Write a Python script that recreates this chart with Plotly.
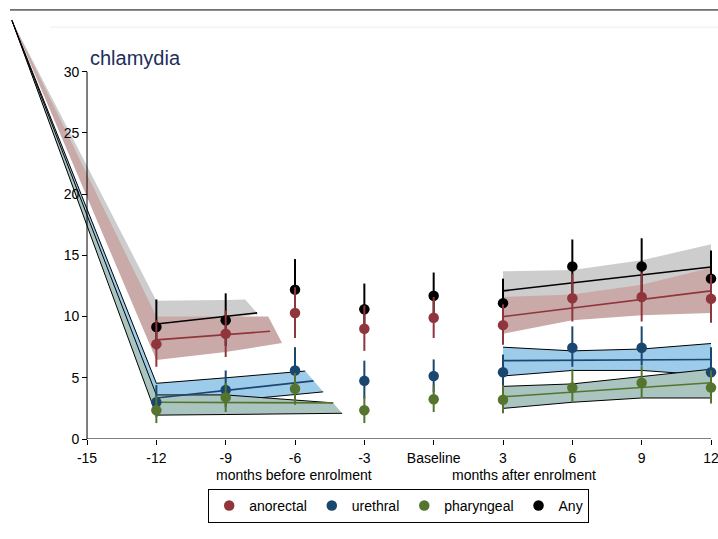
import plotly.graph_objects as go

# ---------------- data ----------------
months = [-12, -9, -6, -3, 0, 3, 6, 9, 12]
tick_vals = [-15, -12, -9, -6, -3, 0, 3, 6, 9, 12]
tick_text = ["-15", "-12", "-9", "-6", "-3", "Baseline", "3", "6", "9", "12"]
y_ticks = [0, 5, 10, 15, 20, 25, 30]

any_pt = [9.15, 9.7, 12.2, 10.6, 11.7, 11.1, 14.1, 14.1, 13.1]
any_hi = [11.4, 11.9, 14.7, 12.7, 13.6, 13.1, 16.3, 16.4, 15.4]
any_lo = [7.3, 7.6, 9.8, 8.6, 9.8, 9.2, 11.9, 11.8, 10.9]

ano_pt = [7.75, 8.6, 10.3, 9.0, 9.9, 9.3, 11.5, 11.6, 11.45]
ano_hi = [9.7, 10.5, 12.4, 10.9, 11.6, 11.0, 13.5, 13.6, 13.4]
ano_lo = [5.9, 6.7, 8.25, 7.2, 8.25, 7.7, 9.6, 9.6, 9.5]

ure_pt = [3.0, 4.0, 5.6, 4.75, 5.15, 5.45, 7.45, 7.45, 5.45]
ure_hi = [4.4, 5.6, 7.5, 6.4, 6.5, 6.9, 9.2, 9.2, 7.5]
ure_lo = [1.8, 2.6, 3.9, 3.3, 3.8, 4.0, 5.9, 6.0, 4.0]

pha_pt = [2.35, 3.4, 4.1, 2.35, 3.25, 3.2, 4.2, 4.6, 4.2]
pha_hi = [3.5, 4.6, 5.4, 3.5, 4.4, 4.4, 5.7, 5.95, 5.6]
pha_lo = [1.3, 2.2, 2.8, 1.3, 2.2, 2.1, 3.0, 3.35, 2.9]

# fitted lines (before / after enrolment)
any_fit_pre_x, any_fit_pre_y = [-12, -7.64], [9.4, 10.3]
ano_fit_pre_x, ano_fit_pre_y = [-12, -7.08], [8.1, 8.8]
ure_fit_pre_x, ure_fit_pre_y = [-12, -5.2], [3.35, 4.75]
pha_fit_pre_x, pha_fit_pre_y = [-12, -4.35], [3.0, 2.95]

post_x = [3, 12]
any_fit_post = [12.1, 14.05]
ano_fit_post = [10.0, 12.1]
ure_fit_post = [6.4, 6.5]
pha_fit_post = [3.45, 4.6]

# confidence bands, before enrolment (first vertex lies off the axis)
any_band_pre_xu, any_band_pre_up = [-18.25, -12, -9, -8.16], [34.2, 11.3, 11.35, 11.4]
any_band_pre_xl, any_band_pre_lo = [-18.25, -12, -9, -7.6], [34.2, 9.5, 9.8, 10.2]
ano_band_pre_xu, ano_band_pre_up = [-18.25, -12, -9, -7.16], [34.2, 10.0, 10.0, 10.0]
ano_band_pre_xl, ano_band_pre_lo = [-18.25, -12, -9, -6.56], [34.2, 6.45, 7.1, 7.85]
ure_band_pre_xu, ure_band_pre_up = [-18.25, -12, -9, -5.56], [34.2, 4.55, 5.0, 5.55]
ure_band_pre_xl, ure_band_pre_lo = [-18.25, -12, -9, -4.78], [34.2, 2.5, 3.1, 3.85]
pha_band_pre_xu, pha_band_pre_up = [-18.25, -12, -9, -4.35], [34.2, 3.6, 3.6, 2.95]
pha_band_pre_xl, pha_band_pre_lo = [-18.25, -12, -9, -3.96], [34.2, 1.95, 2.0, 2.1]

# confidence bands, after enrolment
band_post_x = [3, 6, 9, 12]
any_band_post_up = [13.7, 13.8, 14.6, 15.9]
any_band_post_lo = [10.6, 11.2, 11.8, 12.3]
ano_band_post_up = [11.6, 11.8, 12.6, 14.0]
ano_band_post_lo = [8.6, 9.7, 10.1, 10.3]
ure_band_post_up = [7.5, 7.2, 7.35, 7.8]
ure_band_post_lo = [5.15, 5.6, 5.6, 5.2]
pha_band_post_up = [4.3, 4.5, 5.1, 5.7]
pha_band_post_lo = [2.5, 3.0, 3.35, 3.35]

# ---------------- styles ----------------
C_ANO, C_URE, C_PHA, C_ANY = "#90353b", "#1a476f", "#55752f", "#000000"
F_ANY, F_ANO, F_URE, F_PHA = "#cdcdcd", "#c9aaa8", "#9dcbea", "#aac5bf"
FONT = "Liberation Sans, Arial, sans-serif"

fig = go.Figure()


def band(xu, up, xl, lo, fill, outline):
    fig.add_trace(go.Scatter(
        x=list(xu) + list(xl)[::-1], y=list(up) + list(lo)[::-1],
        fill="toself", fillcolor=fill, mode="lines",
        line=dict(width=0, color=fill), hoverinfo="skip", showlegend=False))
    if outline:
        for xs, ys in ((xu, up), (xl, lo)):
            fig.add_trace(go.Scatter(x=xs, y=ys, mode="lines",
                                     line=dict(color="black", width=1),
                                     hoverinfo="skip", showlegend=False))


band(any_band_pre_xu, any_band_pre_up, any_band_pre_xl, any_band_pre_lo, F_ANY, False)
band(band_post_x, any_band_post_up, band_post_x, any_band_post_lo, F_ANY, False)
band(ano_band_pre_xu, ano_band_pre_up, ano_band_pre_xl, ano_band_pre_lo, F_ANO, False)
band(band_post_x, ano_band_post_up, band_post_x, ano_band_post_lo, F_ANO, False)
band(ure_band_pre_xu, ure_band_pre_up, ure_band_pre_xl, ure_band_pre_lo, F_URE, True)
band(band_post_x, ure_band_post_up, band_post_x, ure_band_post_lo, F_URE, True)
band(pha_band_pre_xu, pha_band_pre_up, pha_band_pre_xl, pha_band_pre_lo, F_PHA, True)
band(band_post_x, pha_band_post_up, band_post_x, pha_band_post_lo, F_PHA, True)

for xs, ys, c in [
    (any_fit_pre_x, any_fit_pre_y, C_ANY), (post_x, any_fit_post, C_ANY),
    (ano_fit_pre_x, ano_fit_pre_y, C_ANO), (post_x, ano_fit_post, C_ANO),
    (ure_fit_pre_x, ure_fit_pre_y, C_URE), (post_x, ure_fit_post, C_URE),
    (pha_fit_pre_x, pha_fit_pre_y, C_PHA), (post_x, pha_fit_post, C_PHA),
]:
    fig.add_trace(go.Scatter(x=xs, y=ys, mode="lines", line=dict(color=c, width=1.6),
                             hoverinfo="skip", showlegend=False))


def points(name, pt, hi, lo, color, rank):
    fig.add_trace(go.Scatter(
        x=months, y=pt, mode="markers", name=name, legendrank=rank,
        marker=dict(color=color, size=10.5),
        error_y=dict(type="data", symmetric=False,
                     array=[h - p for h, p in zip(hi, pt)],
                     arrayminus=[p - l for p, l in zip(pt, lo)],
                     color=color, thickness=2, width=0)))


points("Any", any_pt, any_hi, any_lo, C_ANY, 4)
points("anorectal", ano_pt, ano_hi, ano_lo, C_ANO, 1)
points("urethral", ure_pt, ure_hi, ure_lo, C_URE, 2)
points("pharyngeal", pha_pt, pha_hi, pha_lo, C_PHA, 3)

# axis lines drawn only over the labelled span
fig.add_shape(type="line", x0=tick_vals[0], x1=tick_vals[-1], y0=0, y1=0,
              xref="x", yref="y", line=dict(color="black", width=1))
fig.add_shape(type="line", x0=tick_vals[0], x1=tick_vals[0], y0=y_ticks[0], y1=y_ticks[-1],
              xref="x", yref="y", line=dict(color="black", width=1))
# outer frame lines
fig.add_shape(type="line", x0=0, x1=1, y0=1.024, y1=1.024, xref="paper", yref="paper",
              line=dict(color="black", width=1))
fig.add_shape(type="line", x0=0.057, x1=1, y0=0.983, y1=0.983, xref="paper", yref="paper",
              line=dict(color="#e6eeef", width=1))

fig.add_annotation(text="chlamydia", x=-14.95, y=0.909, xref="x", yref="paper",
                   xanchor="left", yanchor="middle", showarrow=False,
                   font=dict(family=FONT, size=20, color="#1c2f5c"))
fig.add_annotation(text="months before enrolment", x=-6.05, y=-0.087, xref="x", yref="paper",
                   xanchor="center", yanchor="middle", showarrow=False,
                   font=dict(family=FONT, size=14, color="black"))
fig.add_annotation(text="months after enrolment", x=3.9, y=-0.087, xref="x", yref="paper",
                   xanchor="center", yanchor="middle", showarrow=False,
                   font=dict(family=FONT, size=14, color="black"))

x_lo_lim, x_hi_lim = -18.333, 12.303
y_pos = (tick_vals[0] - x_lo_lim) / (x_hi_lim - x_lo_lim)

fig.update_layout(
    width=718, height=539,
    margin=dict(l=10, r=0, t=20, b=100),
    paper_bgcolor="white", plot_bgcolor="white",
    font=dict(family=FONT, size=14, color="black"),
    xaxis=dict(range=[x_lo_lim, x_hi_lim], tickvals=tick_vals, ticktext=tick_text,
               showgrid=False, zeroline=False, showline=False,
               ticks="outside", ticklen=5, tickcolor="black",
               ticklabeloverflow="allow", ticklabelstandoff=1,
               tickfont=dict(size=14, color="black")),
    yaxis=dict(range=[0, 34.23], tickvals=y_ticks, anchor="free", position=y_pos,
               showgrid=False, zeroline=False, showline=False,
               ticks="outside", ticklen=5, tickcolor="black",
               tickfont=dict(size=14, color="black")),
    legend=dict(orientation="h", x=0.549, xanchor="center", y=-0.119, yanchor="top",
                bordercolor="black", borderwidth=1, font=dict(size=14),
                traceorder="normal"),
    showlegend=True,
)

fig.write_html("out.html")
